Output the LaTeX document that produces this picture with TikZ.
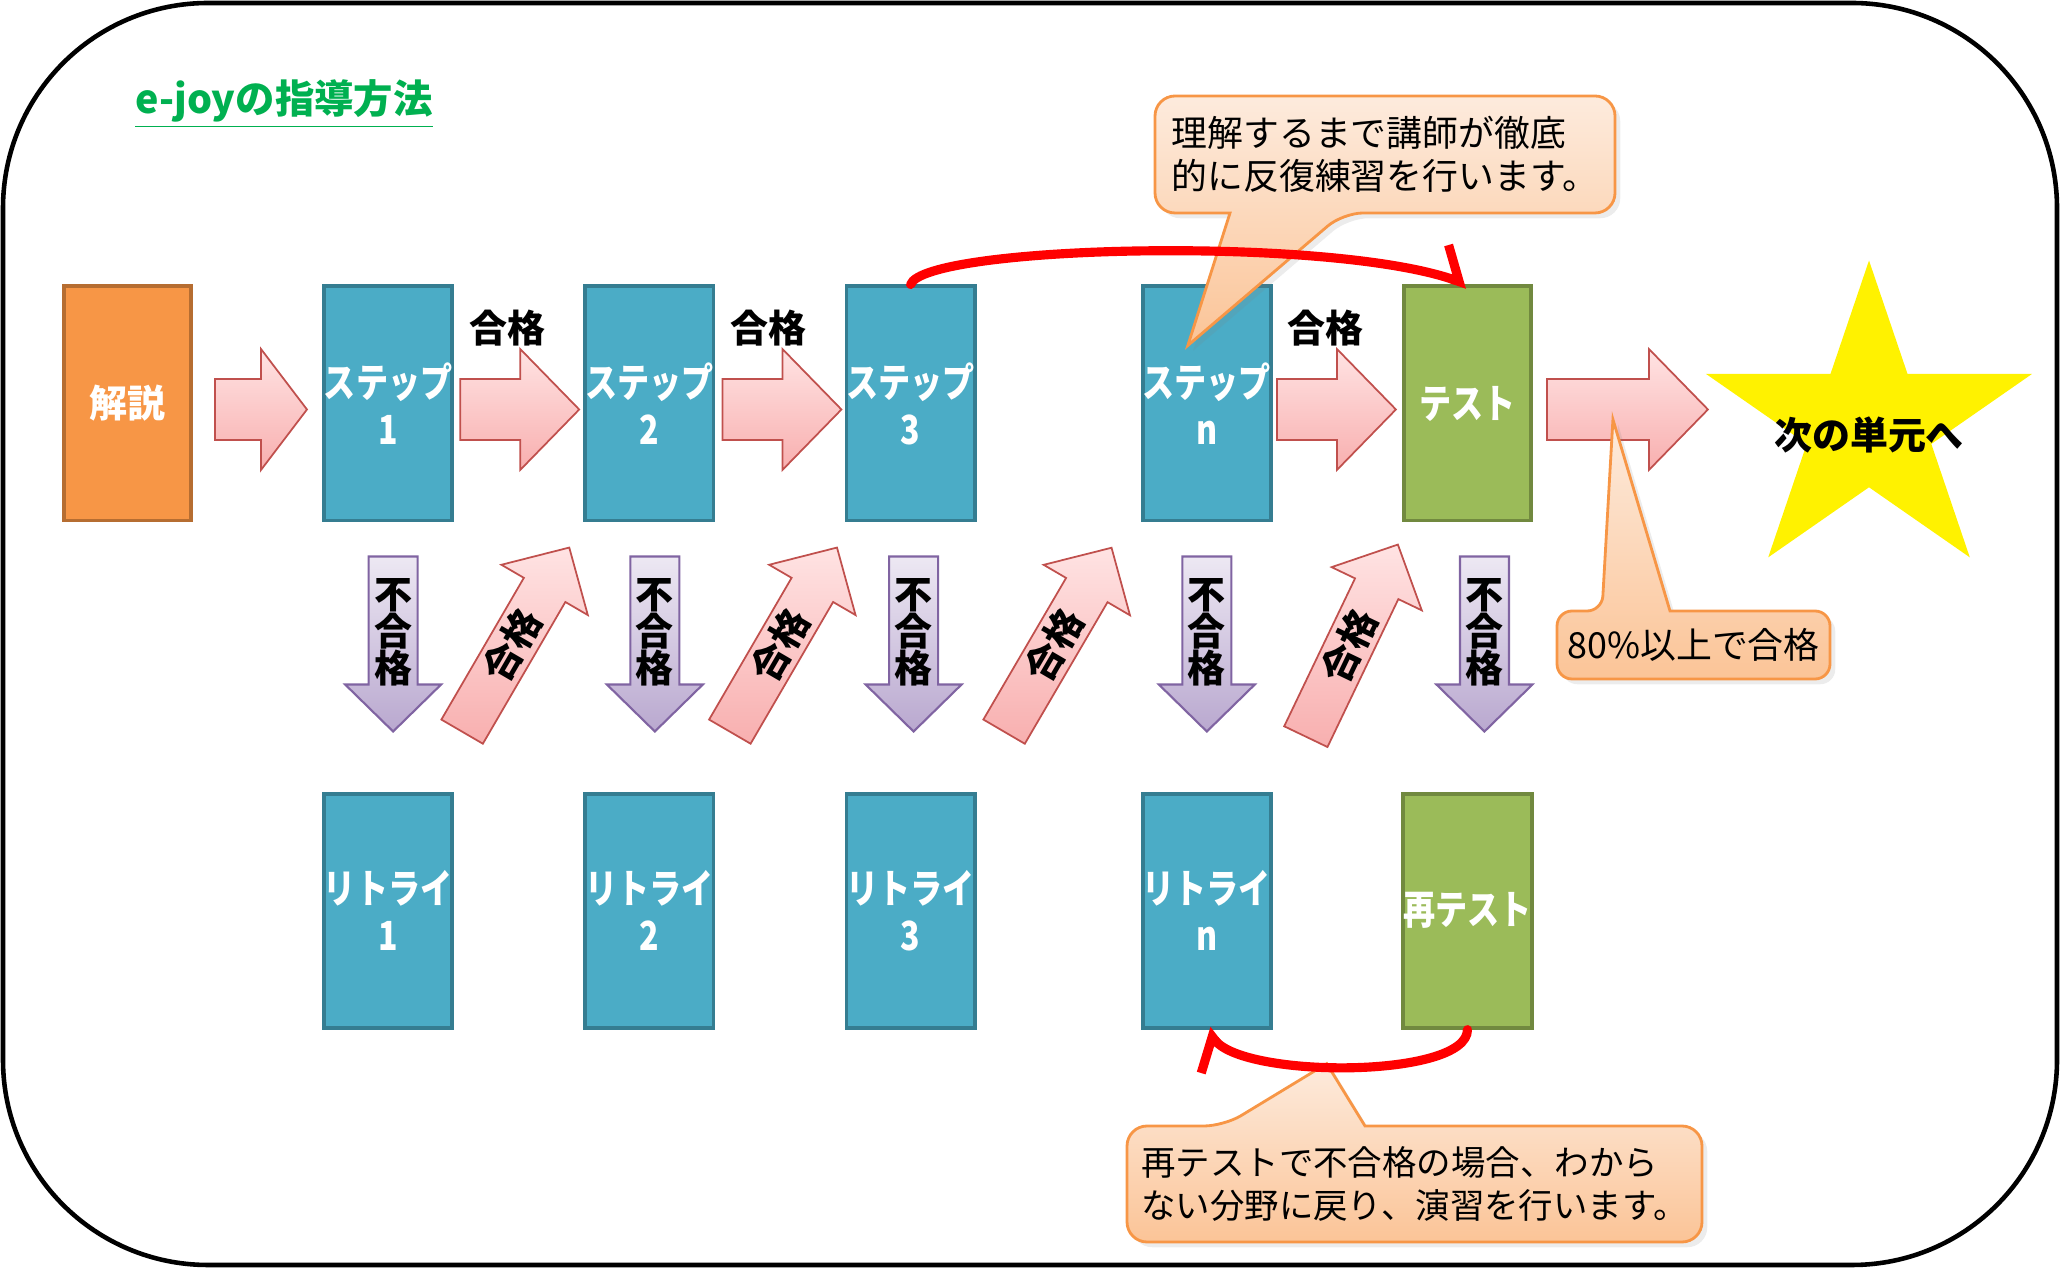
\documentclass[tikz,border=0pt]{standalone}
\usepackage{fontspec}
\newfontfamily\jp{Noto Sans CJK JP}
\newfontfamily\jpc[FakeStretch=0.8]{Noto Sans CJK JP}
\usetikzlibrary{positioning, calc, arrows.meta, shapes.geometric, shadows}
\definecolor{aqua}{HTML}{4BACC6}
\definecolor{aquaedge}{HTML}{357D91}
\definecolor{leaf}{HTML}{9BBB59}
\definecolor{leafedge}{HTML}{71893F}
\definecolor{tangerine}{HTML}{F79646}
\definecolor{tangerineedge}{HTML}{B66D31}
\definecolor{rosetop}{HTML}{FFE3E3}
\definecolor{rosebottom}{HTML}{F8AFAF}
\definecolor{roseedge}{HTML}{C0504D}
\definecolor{liltop}{HTML}{EDE8F3}
\definecolor{lilbottom}{HTML}{B9A8CF}
\definecolor{liledge}{HTML}{8064A2}
\definecolor{peachtop}{HTML}{FDEBDD}
\definecolor{peachbottom}{HTML}{FBC497}
\definecolor{titlegreen}{HTML}{00B050}

\begin{document}
\begin{tikzpicture}[x=0.01cm, y=-0.01cm, node distance=1.29cm,
    blockbox/.style={draw, line width=1.1pt, minimum width=1.27cm, minimum height=2.34cm, inner sep=0pt, align=center, text=white, font=\jpc\bfseries\fontsize{11.4}{13.4}\selectfont},
    stepbox/.style={blockbox, fill=aqua, draw=aquaedge},
    testbox/.style={blockbox, fill=leaf, draw=leafedge},
    pass/.style={draw=roseedge, line width=0.5pt, top color=rosetop, bottom color=rosebottom},
    fail/.style={draw=liledge, line width=0.6pt, top color=liltop, bottom color=lilbottom},
    passtext/.style={inner sep=0pt, font=\jp\bfseries\fontsize{10.8}{12}\selectfont},
    failtext/.style={inner sep=0pt, align=center, font=\jp\bfseries\fontsize{10.8}{10.5}\selectfont},
    callout/.style={draw=tangerine, line width=0.8pt, top color=peachtop, bottom color=peachbottom, drop shadow={opacity=0.15, shadow xshift=1.5pt, shadow yshift=-1.5pt}},
    calltext/.style={inner sep=0pt, align=left, font=\jp\fontsize{10.2}{12.2}\selectfont},
    retry/.style={draw=red, line width=2.6pt, line cap=round, -{Straight Barb[harpoon, length=0.22cm, width=0.62cm]}}]
  \useasboundingbox (0,0) rectangle (2060,1268);
  \draw[line width=1.3pt, rounded corners=2.05cm] (3,3) rectangle (2057,1265);
  \node[text=titlegreen, font=\jp\bfseries\fontsize{11.2}{13}\selectfont] (title) at (284,104) {\underline{e-joyの指導方法}};

  \node[blockbox, fill=tangerine, draw=tangerineedge, font=\jp\bfseries\fontsize{10.8}{13}\selectfont] (kai) at (127.5,403.5) {解説};
  \node[stepbox, right=of kai] (s1) {ステップ\\1};
  \node[stepbox, right=of s1] (s2) {ステップ\\2};
  \node[stepbox, right=of s2] (s3) {ステップ\\3};
  \node[stepbox, right=1.64cm of s3] (sn) {ステップ\\n};
  \node[testbox, right=of sn] (te) {テスト};
  \node[stepbox, below=2.69cm of s1] (r1) {リトライ\\1};
  \node[stepbox, below=2.69cm of s2] (r2) {リトライ\\2};
  \node[stepbox, below=2.69cm of s3] (r3) {リトライ\\3};
  \node[stepbox, below=2.69cm of sn] (rn) {リトライ\\n};
  \node[testbox, below=2.69cm of te] (re) {再テスト};
  \node[star, star points=5, star point ratio=2.618, minimum size=3.28cm, inner sep=0pt, fill=yellow, transform shape, xscale=1.045] (goal) at (1869,424.6) {};
  \node[passtext] (g) at (1869,435) {次の単元へ};

  \foreach \a/\dx/\l/\k in {kai/22/92/46, s1/6/119/59, s2/7/119/59, sn/4/119/59, te/14/161/59}
    \draw[pass, shift={($(\a.east)+(\dx,6)$)}] (0,-30.5) -- ({\l-\k},-30.5) -- ({\l-\k},-60.5) -- (\l,0) -- ({\l-\k},60.5) -- ({\l-\k},30.5) -- (0,30.5) -- cycle;
  \foreach \a [count=\i] in {s1, s2, sn}
    \node[passtext] (p\i) at ($(\a.north east)+(53,44)$) {合格};

  \foreach \b/\dx [count=\i] in {s1/5, s2/5.5, s3/3, sn/0, te/17} {
    \draw[fail, shift={($(\b.south)+(\dx,34)$)}] (-24.5,0) -- (24.5,0) -- (24.5,128) -- (48,128) -- (0,175) -- (-48,128) -- (-24.5,128) -- cycle;
    \node[failtext] (f\i) at ($(\b.south)+(\dx,110)$) {不\\合\\格};
  }

  \foreach \b/\dx/\dy/\ang [count=\i] in {r1/74/-60/59.8, r2/80.5/-60/59.8, r3/93.5/-60/59.7, rn/99/-55/64.4} {
    \begin{scope}[shift={($(\b.north)+(\dx,\dy)$)}, rotate=\ang]
      \draw[pass] (0,-24) -- (164,-24) -- (164,-50) -- (213,0) -- (164,50) -- (164,24) -- (0,24) -- cycle;
      \node[passtext, rotate=\ang] (u\i) at (100,0) {合格};
    \end{scope}
  }

  \draw[callout] (1385,96) [rounded corners=0.2cm] -- (1615,96) -- (1615,213) -- (1343,213) [sharp corners] -- ($(sn.north)+(-19,61)$) -- (1230,213) [rounded corners=0.2cm] -- (1155,213) -- (1155,96) -- cycle;
  \node[calltext] (c1) at (1385,154.5) {理解するまで講師が徹底\\的に反復練習を行います。};
  \draw[callout] (1693,679) [rounded corners=0.15cm] -- (1557,679) -- (1557,611) -- (1602,611) [sharp corners] -- ($(te.east)+(80,16)$) -- (1670,611) [rounded corners=0.15cm] -- (1830,611) -- (1830,679) -- cycle;
  \node[calltext] (c2) at (1693.5,645) {80\%以上で合格};
  \draw[callout] (1414,1242) [rounded corners=0.2cm] -- (1127,1242) -- (1127,1126) -- (1224,1126) [sharp corners] -- ($(rn.south)!0.46!(re.south)+(0,34)$) -- (1365,1126) [rounded corners=0.2cm] -- (1702,1126) -- (1702,1242) -- cycle;
  \node[calltext, font=\jp\fontsize{9.8}{12}\selectfont] (c3) at (1414.5,1184) {再テストで不合格の場合、わから\\ない分野に戻り、演習を行います。};

  \draw[retry] (s3.north) .. controls +(14,-39) and +(-140,-49) .. (te.north);
  \draw[retry] (re.south) .. controls +(0,49) and +(38,49) .. (rn.south);
\end{tikzpicture}
\end{document}
